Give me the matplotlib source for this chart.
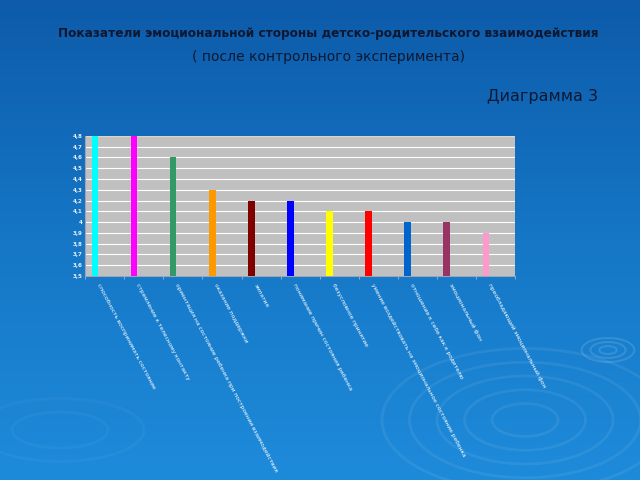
import numpy as np
import matplotlib
matplotlib.use("Agg")
import matplotlib.pyplot as plt
from matplotlib.patches import Ellipse

# данные диаграммы
categories = [
    "способность воспринимать состояние",
    "стремление к телесному контакту",
    "ориентация на состояние ребенка при построении взаимодействия",
    "оказание поддержки",
    "эмпатия",
    "понимание причин состояния ребенка",
    "безусловное принятие",
    "умение воздействовать на эмоциональное состояние ребенка",
    "отношение к себе как к родителю",
    "эмоциональный фон",
    "преобладающий эмоциональный фон",
]
values = [4.8, 4.8, 4.6, 4.3, 4.2, 4.2, 4.1, 4.1, 4.0, 4.0, 3.9]
colors = ["#00FFFF", "#FF00FF", "#339966", "#FF9900", "#800000", "#0000FF",
          "#FFFF00", "#FF0000", "#0066CC", "#993366", "#FF99CC"]
yticks = [3.5, 3.6, 3.7, 3.8, 3.9, 4.0, 4.1, 4.2, 4.3, 4.4, 4.5, 4.6, 4.7, 4.8]

fig = plt.figure(figsize=(6.4, 4.8), dpi=100)

# фон слайда: синий градиент и "круги на воде"
bg = fig.add_axes([0, 0, 1, 1])
grad = np.linspace(0, 1, 256).reshape(-1, 1)
cmap = matplotlib.colors.LinearSegmentedColormap.from_list(
    "slide", ["#0D5BAA", "#1577C6", "#1E8BDA"])
bg.imshow(grad, aspect="auto", cmap=cmap, extent=[0, 640, 480, 0])
for r in [30, 55, 80, 105, 130]:
    bg.add_patch(Ellipse((525, 420), r * 2.2, r * 1.1, fill=False,
                         ec="white", lw=2, alpha=0.07))
for r in [8, 16, 24]:
    bg.add_patch(Ellipse((608, 350), r * 2.2, r * 1.0, fill=False,
                         ec="white", lw=1.5, alpha=0.12))
for r in [40, 70]:
    bg.add_patch(Ellipse((60, 430), r * 2.4, r * 0.9, fill=False,
                         ec="white", lw=2, alpha=0.04))
bg.set_xlim(0, 640)
bg.set_ylim(480, 0)
bg.axis("off")

txt = "#0E1830"
fig.text(0.513, 0.931, "Показатели эмоциональной стороны детско-родительского взаимодействия",
         ha="center", va="center", fontsize=8.7, fontweight="bold", color=txt)
fig.text(0.513, 0.881, "( после контрольного эксперимента)",
         ha="center", va="center", fontsize=10, color=txt)
fig.text(0.847, 0.80, "Диаграмма 3", ha="center", va="center",
         fontsize=11.5, color=txt)

ax = fig.add_axes([0.133, 0.425, 0.672, 0.292])
ax.set_facecolor("#C0C0C0")
x = np.arange(len(values))
ax.bar(x - 0.25, np.array(values) - 3.5, bottom=3.5, width=0.17,
       color=colors, zorder=3)
ax.set_xlim(-0.5, len(values) - 0.5)
ax.set_ylim(3.5, 4.8)
ax.set_yticks(yticks)
ax.set_yticklabels([("%g" % v).replace(".", ",") for v in yticks],
                   fontsize=4, color="#E8EEF8", fontweight="bold")
ax.yaxis.grid(True, color="white", lw=0.8, zorder=1)
ax.tick_params(axis="y", length=0, pad=2)
ax.set_xticks(np.arange(len(values) + 1) - 0.5, minor=True)
ax.set_xticks(x)
ax.set_xticklabels([])
ax.tick_params(axis="x", which="major", length=0)
ax.tick_params(axis="x", which="minor", length=2, color="#AAB4C8")
for s in ["top", "right"]:
    ax.spines[s].set_visible(False)
ax.spines["left"].set_color("#9AA4B8")
ax.spines["bottom"].set_color("#9AA4B8")
ax.axhline(4.8, color="#D8CCB8", lw=1.2, zorder=2)

for i, lab in enumerate(categories):
    ax.annotate(lab, xy=(i - 0.25, 3.5), xytext=(4, -5), textcoords="offset points",
                rotation=-62, rotation_mode="anchor", ha="left", va="top",
                fontsize=4.2, color="white", annotation_clip=False)

fig.savefig("out.png", dpi=100)
